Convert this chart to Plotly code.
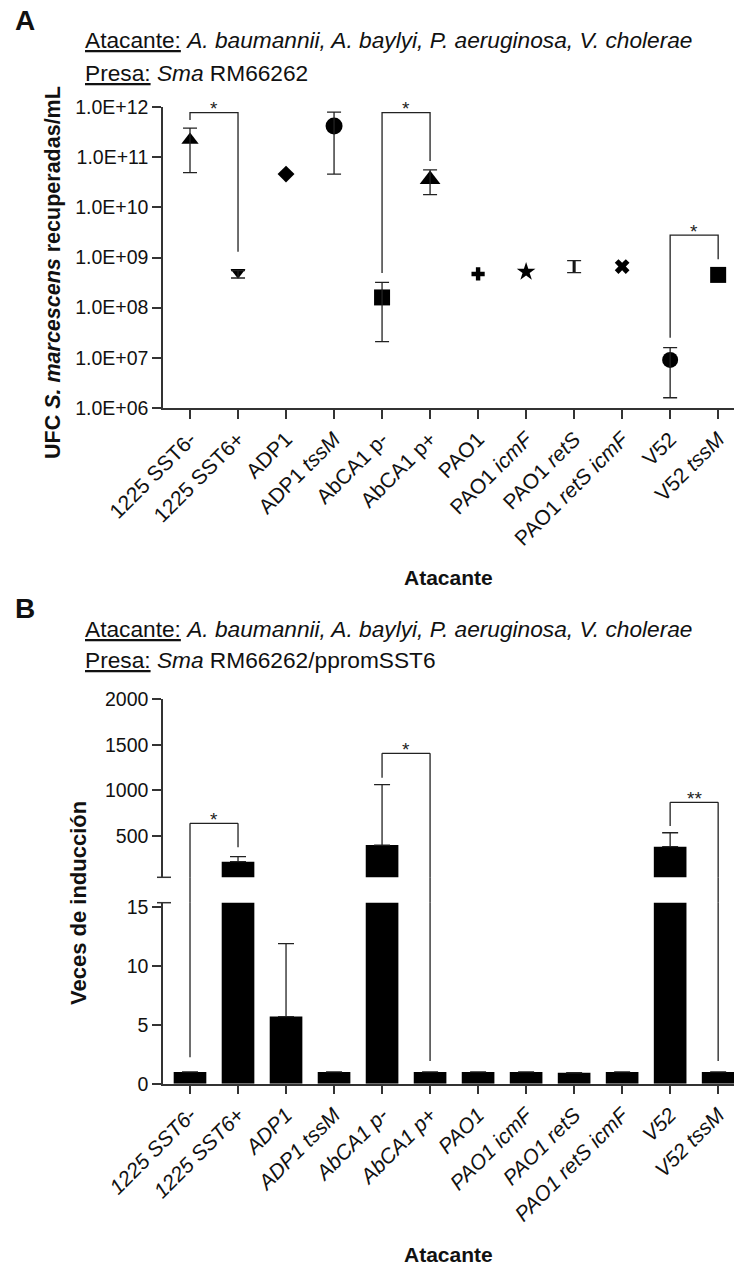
import math
import plotly.graph_objects as go

# ---------------- data ----------------
categories = ["1225 SST6-", "1225 SST6+", "ADP1", "ADP1 tssM", "AbCA1 p-", "AbCA1 p+",
              "PAO1", "PAO1 icmF", "PAO1 retS", "PAO1 retS icmF", "V52", "V52 tssM"]
labels_A = ["1225 SST6-", "1225 SST6+", "ADP1", "ADP1 <i>tssM</i>", "AbCA1 p-", "AbCA1 p+",
            "PAO1", "PAO1 <i>icmF</i>", "PAO1 <i>retS</i>", "PAO1 <i>retS icmF</i>", "V52", "V52 <i>tssM</i>"]
labels_B = ["<i>" + c + "</i>" for c in categories]

# Panel A: CFU recovered (log scale)
ufc_mean = [2.2e11, 5.1e8, 4.6e10, 4.2e11, 1.6e8, 3.6e10, 4.7e8, 5.2e8, 6.6e8, 6.6e8, 9.1e6, 4.5e8]
ufc_upper = [3.8e11, 5.5e8, 4.6e10, 7.9e11, 3.2e8, 5.6e10, 4.7e8, 5.2e8, 8.7e8, 6.6e8, 1.6e7, 4.5e8]
ufc_lower = [4.9e10, 3.9e8, 4.6e10, 4.6e10, 2.1e7, 1.8e10, 4.7e8, 5.2e8, 5.0e8, 6.6e8, 1.6e6, 4.5e8]
ufc_symbols = ["triangle-up", "triangle-down", "diamond", "circle", "square", "triangle-up",
               "cross", "star", "line-ns", "x", "circle", "square"]
ufc_sizes = [15, 13, 13, 17, 16, 18, 11, 14, 8, 13, 16, 16]
ufc_tickvals = [1e6, 1e7, 1e8, 1e9, 1e10, 1e11, 1e12]
ufc_ticktext = ["1.0E+06", "1.0E+07", "1.0E+08", "1.0E+09", "1.0E+10", "1.0E+11", "1.0E+12"]

# Panel B: fold induction (broken axis)
fold_mean = [1.0, 218, 5.7, 1.0, 401, 1.0, 1.0, 1.0, 0.93, 1.0, 383, 1.0]
fold_err_plus = [0, 55, 6.2, 0, 662, 0, 0, 0, 0, 0, 153, 0]
upper_ticks = [500, 1000, 1500, 2000]
lower_ticks = [0, 5, 10, 15]

# significance brackets: (left idx, right idx, left-leg start, top, right-leg end, label)
sig_A = [(0, 1, 5.5e11, 7.7e11, 1.3e9, "*"),
         (4, 5, 4.9e8, 7.7e11, 8.4e10, "*"),
         (10, 11, 2.5e7, 2.8e9, 9.2e8, "*")]
# panel B: legs given as (value, segment) where segment 'u' = upper axis, 'l' = lower axis
sig_B = [(0, 1, (2.24, "l"), 639, (376, "u"), "*"),
         (4, 5, (1140, "u"), 1407, (1.93, "l"), "*"),
         (10, 11, (610, "u"), 870, (1.93, "l"), "**")]

# ---------------- layout constants ----------------
W, H = 734, 1269
FONT = "Liberation Sans, Arial, sans-serif"
AX = "#333333"


def py(p):
    return 1 - p / H


x_dom = [163 / W, 1.0]
x_rng = [-0.5625, 11.33]
A_dom = [py(408), py(107)]
Bu_dom = [py(877.3), py(699.3)]
Bl_dom = [py(1083.7), py(902.7)]
Bu_rng = [47, 2000]
Bl_rng = [0, 15.38]

xs = list(range(len(categories)))

fig = go.Figure()
ann = []

# ---- Panel A markers
fig.add_trace(go.Scatter(
    x=xs, y=ufc_mean, mode="markers", xaxis="x", yaxis="y",
    marker=dict(symbol=ufc_symbols, size=ufc_sizes, color="black", opacity=1,
                line=dict(color="black", width=[3 if s == "line-ns" else 0 for s in ufc_symbols])),
    showlegend=False))
err_idx = [i for i in xs if ufc_upper[i] != ufc_mean[i] or ufc_lower[i] != ufc_mean[i]]
fig.add_trace(go.Scatter(
    x=[xs[i] for i in err_idx], y=[ufc_mean[i] for i in err_idx], mode="markers",
    xaxis="x", yaxis="y", marker=dict(size=1, color="rgba(0,0,0,0)"),
    error_y=dict(type="data", symmetric=False,
                 array=[ufc_upper[i] - ufc_mean[i] for i in err_idx],
                 arrayminus=[ufc_mean[i] - ufc_lower[i] for i in err_idx],
                 color="#222", thickness=1.3, width=7),
    showlegend=False))

star_font = dict(size=19, color="#222", family=FONT)

# ---- Panel A brackets
for i, j, left, top, right, lab in sig_A:
    fig.add_trace(go.Scatter(x=[i, i, j, j], y=[left, top, top, right], mode="lines",
                             line=dict(color="#222", width=1.3), xaxis="x", yaxis="y",
                             showlegend=False, hoverinfo="skip"))
    ann.append(dict(text=lab, x=(i + j) / 2, y=math.log10(top), xref="x", yref="y",
                    showarrow=False, yanchor="middle", yshift=4, font=star_font))

# ---- Panel B bars (upper & lower segments)
for xa, ya in (("x2", "y2"), ("x3", "y3")):
    fig.add_trace(go.Bar(
        x=xs, y=fold_mean, width=0.68, marker=dict(color="black", line=dict(width=0)),
        error_y=dict(type="data", symmetric=False, array=fold_err_plus, arrayminus=[0] * len(xs),
                     color="#222", thickness=1.3, width=8),
        xaxis=xa, yaxis=ya, showlegend=False))

# ---- Panel B brackets
shapes = []
for i, j, (lv, lseg), top, (rv, rseg), lab in sig_B:
    fig.add_trace(go.Scatter(x=[i, j], y=[top, top], mode="lines", line=dict(color="#222", width=1.3),
                             xaxis="x2", yaxis="y2", showlegend=False, hoverinfo="skip"))
    ann.append(dict(text=lab, x=(i + j) / 2, y=top, xref="x2", yref="y2",
                    showarrow=False, yanchor="middle", yshift=4, font=star_font))
    for xi, v, seg in ((i, lv, lseg), (j, rv, rseg)):
        if seg == "u":
            fig.add_trace(go.Scatter(x=[xi, xi], y=[v, top], mode="lines", line=dict(color="#222", width=1.3),
                                     xaxis="x2", yaxis="y2", showlegend=False, hoverinfo="skip"))
        else:
            fig.add_trace(go.Scatter(x=[xi, xi], y=[Bu_rng[0] - 100, top], mode="lines",
                                     line=dict(color="#222", width=1.3),
                                     xaxis="x2", yaxis="y2", showlegend=False, hoverinfo="skip"))
            fig.add_trace(go.Scatter(x=[xi, xi], y=[v, Bl_rng[1] + 10], mode="lines",
                                     line=dict(color="#222", width=1.3),
                                     xaxis="x3", yaxis="y3", showlegend=False, hoverinfo="skip"))
            shapes.append(dict(type="line", xref="x3", yref="paper", x0=xi, x1=xi,
                               y0=Bl_dom[1], y1=Bu_dom[0], line=dict(color="#222", width=1.3)))

# break caps on the y axis
shapes.append(dict(type="line", xref="paper", yref="y2 domain", x0=157 / W, x1=171 / W, y0=0, y1=0,
                   line=dict(color=AX, width=1.5)))
shapes.append(dict(type="line", xref="paper", yref="y3 domain", x0=157 / W, x1=171 / W, y0=1, y1=1,
                   line=dict(color=AX, width=1.5)))

axis_common = dict(showline=True, linecolor=AX, linewidth=1.5, ticks="outside", tickcolor=AX,
                   tickwidth=1.5, ticklen=9, showgrid=False, zeroline=False, automargin=False)
ytick_font = dict(family=FONT, size=19.5, color="#111")
xtick_font = dict(family=FONT, size=21, color="#111")

fig.update_layout(
    template="none",
    width=W, height=H, margin=dict(l=0, r=0, t=0, b=0, autoexpand=False),
    paper_bgcolor="white", plot_bgcolor="white",
    font=dict(family=FONT, color="#111"),
    bargap=0.3,
    xaxis=dict(domain=x_dom, range=x_rng, anchor="y", tickvals=xs, ticktext=labels_A, tickangle=-45,
               tickfont=xtick_font, **axis_common),
    yaxis=dict(domain=A_dom, type="log", range=[6, 12], anchor="x", tickvals=ufc_tickvals,
               ticktext=ufc_ticktext, tickfont=ytick_font, **axis_common),
    xaxis2=dict(domain=x_dom, range=x_rng, anchor="y2", visible=False),
    yaxis2=dict(domain=Bu_dom, range=Bu_rng, anchor="x2", tickvals=upper_ticks, tickfont=ytick_font,
                **axis_common),
    xaxis3=dict(domain=x_dom, range=x_rng, anchor="y3", tickvals=xs, ticktext=labels_B, tickangle=-45,
                tickfont=xtick_font, **axis_common),
    yaxis3=dict(domain=Bl_dom, range=Bl_rng, anchor="x3", tickvals=lower_ticks, tickfont=ytick_font,
                **axis_common),
    shapes=shapes,
)

hdr = dict(xref="paper", yref="paper", showarrow=False, xanchor="left", yanchor="middle",
           font=dict(family=FONT, size=22.7, color="#111"))
line1 = ("<span style='text-decoration:underline'>Atacante:</span> "
         "<i>A. baumannii, A. baylyi, P. aeruginosa, V. cholerae</i>")
ann.append(dict(text="<b>A</b>", x=13 / W, y=py(20), font=dict(family=FONT, size=28, color="#111"),
                xref="paper", yref="paper", showarrow=False, xanchor="left", yanchor="middle"))
ann.append(dict(text=line1, x=83 / W, y=py(40), **hdr))
ann.append(dict(text="<span style='text-decoration:underline'>Presa:</span> <i>Sma</i> RM66262",
                x=83 / W, y=py(73), **hdr))
ann.append(dict(text="<b>B</b>", x=13 / W, y=py(608), font=dict(family=FONT, size=28, color="#111"),
                xref="paper", yref="paper", showarrow=False, xanchor="left", yanchor="middle"))
ann.append(dict(text=line1, x=83 / W, y=py(629), **hdr))
ann.append(dict(text="<span style='text-decoration:underline'>Presa:</span> <i>Sma</i> RM66262/ppromSST6",
                x=83 / W, y=py(660), **hdr))
ttl = dict(xref="paper", yref="paper", showarrow=False, xanchor="center", yanchor="middle")
ann.append(dict(text="<b>UFC <i>S. marcescens</i> recuperadas/mL</b>", x=53 / W, y=py(273),
                textangle=-90, font=dict(family=FONT, size=21.5, color="#111"), **ttl))
ann.append(dict(text="<b>Veces de inducción</b>", x=78 / W, y=py(903), textangle=-90,
                font=dict(family=FONT, size=22, color="#111"), **ttl))
ann.append(dict(text="<b>Atacante</b>", x=448 / W, y=py(577),
                font=dict(family=FONT, size=21, color="#111"), **ttl))
ann.append(dict(text="<b>Atacante</b>", x=448 / W, y=py(1254),
                font=dict(family=FONT, size=21, color="#111"), **ttl))
fig.update_layout(annotations=ann)

fig.write_html("out.html")
